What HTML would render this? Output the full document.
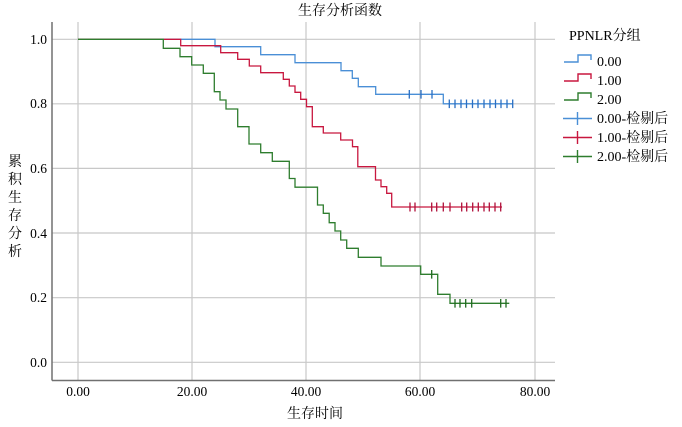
<!DOCTYPE html>
<html><head><meta charset="utf-8"><style>
html,body{margin:0;padding:0;background:#fff;}
svg{display:block;font-family:"Liberation Serif","Noto Serif CJK SC",serif;}
</style></head><body>
<svg width="682" height="427" viewBox="0 0 682 427" xmlns="http://www.w3.org/2000/svg">
<rect width="682" height="427" fill="#fff"/>
<g stroke="#c8c8c8" stroke-width="1.2" fill="none">
<line x1="78" y1="22" x2="78" y2="380"/><line x1="192" y1="22" x2="192" y2="380"/>
<line x1="306" y1="22" x2="306" y2="380"/><line x1="420" y1="22" x2="420" y2="380"/>
<line x1="535" y1="22" x2="535" y2="380"/>
<line x1="52" y1="39.3" x2="555" y2="39.3"/><line x1="52" y1="103.8" x2="555" y2="103.8"/>
<line x1="52" y1="168.4" x2="555" y2="168.4"/><line x1="52" y1="233" x2="555" y2="233"/>
<line x1="52" y1="297.7" x2="555" y2="297.7"/><line x1="52" y1="362.3" x2="555" y2="362.3"/>
</g>
<g stroke="#707070" stroke-width="1.5"><line x1="52" y1="22" x2="52" y2="380.5"/><line x1="52" y1="380.5" x2="555" y2="380.5"/></g>
<g font-size="13.5" fill="#000" text-anchor="end">
<text x="47" y="44">1.0</text><text x="47" y="108">0.8</text><text x="47" y="173">0.6</text>
<text x="47" y="238">0.4</text><text x="47" y="302">0.2</text><text x="47" y="367">0.0</text>
</g>
<g font-size="13.5" fill="#000" text-anchor="middle">
<text x="78" y="396">0.00</text><text x="192" y="396">20.00</text><text x="306" y="396">40.00</text>
<text x="420" y="396">60.00</text><text x="535" y="396">80.00</text>
<text x="340" y="15" font-size="14">生存分析函数</text>
<text x="315" y="418" font-size="14">生存时间</text>
</g>
<g font-size="14" text-anchor="middle">
<text x="15" y="166">累</text><text x="15" y="184">积</text><text x="15" y="202">生</text>
<text x="15" y="220">存</text><text x="15" y="238">分</text><text x="15" y="256">析</text>
</g>
<g fill="none" stroke-width="1.3">
<path stroke="#4a8fd6" d="M78 39.3H215V46.7H260.7V54.7H295V62.7H341V70.7H352.3V78.3H358.3V86.7H375.7V94.3H443.3V103.8H513"/>
<path stroke="#c8173f" d="M78 39.3H180.7V45.7H220.7V52.7H237.7V59.3H249.3V66H260.7V72.7H283.3V79.3H289.3V86H295V92.3H300.7V99.3H306.5V106.7H312.3V126.7H323.3V133H340.7V140H352.5V146.7H357.8V166.7H375.5V180H381V186.7H386.7V193.3H391.7V207H502"/>
<path stroke="#2e7d2e" d="M78 39.3H163.3V48.3H180V56.7H191.7V65H203.3V73.3H214.3V91.7H220V100H226V109H237.7V126.7H249V144H260.7V152.7H272.3V161.3H289.3V178.5H295V187.2H317.5V205H323.3V213.3H329.2V222.7H335V231H340.7V240H346.7V248.3H358.3V257.3H381V266H420.7V274.3H437.7V294.3H450V303.3H509.3"/>
</g>
<g stroke-width="1.3">
<path stroke="#2a6fc4" d="M409.3 90v8.6M421 90v8.6M432 90v8.6M449.3 99.5v8.6M455 99.5v8.6M461 99.5v8.6M466.5 99.5v8.6M472.5 99.5v8.6M478 99.5v8.6M484 99.5v8.6M490 99.5v8.6M495.5 99.5v8.6M501 99.5v8.6M507 99.5v8.6M512.7 99.5v8.6"/>
<path stroke="#b0103a" d="M410 202.5v9M415 202.5v9M431.7 202.5v9M436.7 202.5v9M443.3 202.5v9M450 202.5v9M461.7 202.5v9M466.7 202.5v9M472.7 202.5v9M478.3 202.5v9M484 202.5v9M489.3 202.5v9M495 202.5v9M500.7 202.5v9"/>
<path stroke="#1f6a1f" d="M431.7 270v8.6M455 299v8.6M460 299v8.6M465.7 299v8.6M471.7 299v8.6M500.7 299v8.6M506 299v8.6"/>
</g>
<text x="569" y="40" font-size="14">PPNLR分组</text>
<g fill="none" stroke-width="1.4">
<path stroke="#4a8fd6" d="M564 62H578V55H591V60"/>
<path stroke="#c8173f" d="M564 81H578V74H591V79"/>
<path stroke="#2e7d2e" d="M564 100H578V93H591V98"/>
<path stroke="#4a8fd6" d="M563 118.5H592M577.5 112v13"/>
<path stroke="#c8173f" d="M563 137.5H592M577.5 131v13"/>
<path stroke="#2e7d2e" d="M563 156.5H592M577.5 150v13"/>
</g>
<g font-size="14">
<text x="597" y="66">0.00</text><text x="597" y="85">1.00</text><text x="597" y="104">2.00</text>
<text x="597" y="123">0.00-检剔后</text><text x="597" y="142">1.00-检剔后</text><text x="597" y="161">2.00-检剔后</text>
</g>
</svg>
</body></html>
